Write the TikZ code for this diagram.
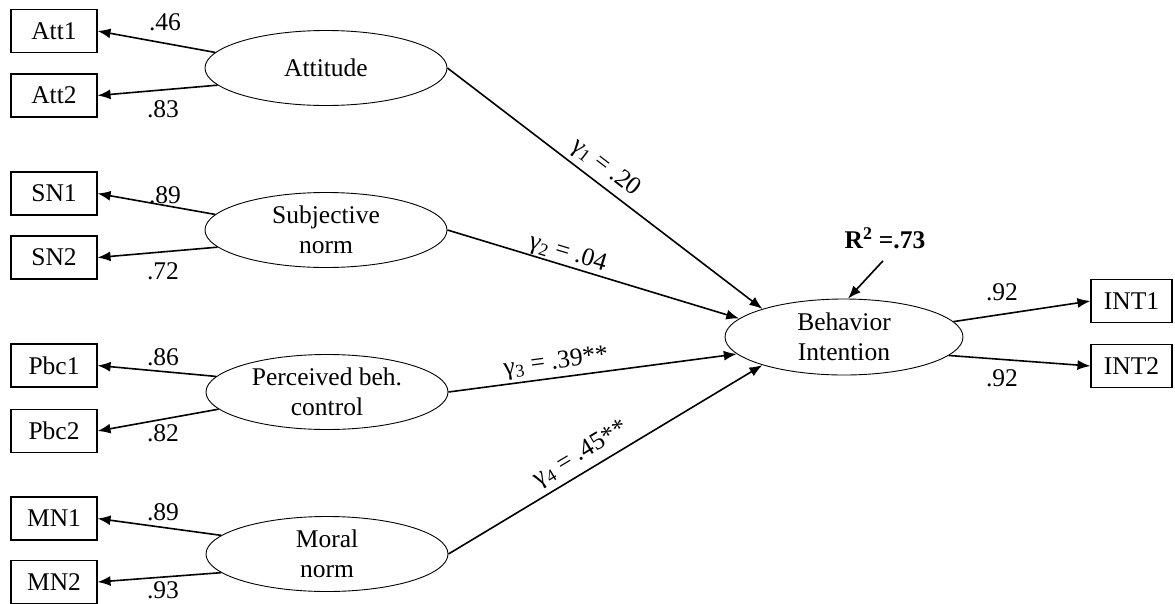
\documentclass[tikz,border=0pt]{standalone}
\usepackage{fontspec}
\setmainfont{Liberation Serif}
\usetikzlibrary{arrows.meta,shapes.geometric}
\tikzset{
  ind/.style={draw, line width=1.1pt, minimum width=86pt, minimum height=43pt, inner sep=0pt},
  lat/.style={draw, ellipse, line width=0.9pt, minimum width=242pt, minimum height=75pt, inner sep=0pt, align=center},
  arr/.style={-{Latex[length=13pt,width=10pt]}, line width=1.6pt},
  lbl/.style={inner sep=0pt},
  glbl/.style={sloped, inner sep=0pt}
}
\begin{document}
\begin{tikzpicture}[x=1pt,y=-1pt,font=\fontsize{25.5}{30}\selectfont]
\useasboundingbox (0,0) rectangle (1175,603);
% indicators
\node[ind] (att1) at (54,31) {Att1};
\node[ind] (att2) at (54,95.5) {Att2};
\node[ind] (sn1) at (54,193.5) {SN1};
\node[ind] (sn2) at (54,257.5) {SN2};
\node[ind] (pbc1) at (54,365.5) {Pbc1};
\node[ind] (pbc2) at (54,431) {Pbc2};
\node[ind] (mn1) at (54,518.5) {MN1};
\node[ind] (mn2) at (54,582) {MN2};
\node[ind, minimum width=81pt] (int1) at (1131.5,301) {INT1};
\node[ind, minimum width=81pt] (int2) at (1131.5,366) {INT2};
% latent
\node[lat] (att) at (326,68) {Attitude};
\node[lat] (sn) at (326,230) {Subjective\\norm};
\node[lat] (pbc) at (327,392) {Perceived beh.\\control};
\node[lat] (mn) at (327,554) {Moral\\norm};
\node[lat, minimum width=238pt, minimum height=76pt] (bi) at (844,337) {Behavior\\Intention};
\node[lbl] (r2) at (885,238) {\textbf{R\textsuperscript{2} =.73}};
% loadings
\draw[arr] (att.172) -- (att1.east);
\draw[arr] (att.189) -- (att2.east);
\draw[arr] (sn.172) -- (sn1.east);
\draw[arr] (sn.189) -- (sn2.east);
\draw[arr] (pbc.172) -- (pbc1.east);
\draw[arr] (pbc.189) -- (pbc2.east);
\draw[arr] (mn.170) -- (mn1.east);
\draw[arr] (mn.190) -- (mn2.east);
\draw[arr] (bi.8) -- (int1.west);
\draw[arr] (bi.-10) -- (int2.west);
% structural paths
\draw[arr] (att.east) -- node[glbl, pos=0.47, above=5pt] {γ\textsubscript{1} = .20} (bi.161);
\draw[arr] (sn.east) -- node[glbl, pos=0.40, above=0pt] {γ\textsubscript{2} = .04} (bi.170);
\draw[arr] (pbc.east) -- node[glbl, pos=0.38, above=3pt] {γ\textsubscript{3} = .39**} (bi.189);
\draw[arr] (mn.east) -- node[glbl, pos=0.45, above=5pt] {γ\textsubscript{4} = .45**} (bi.199);
\coordinate (r2s) at ([xshift=-2pt,yshift=-12pt]r2.south);
\draw[arr] (r2s) -- (bi.84);
% loading labels
\node[lbl] (l1) at (165,22) {.46};
\node[lbl] (l2) at (163,109) {.83};
\node[lbl] (l3) at (165,195) {.89};
\node[lbl] (l4) at (163,271) {.72};
\node[lbl] (l5) at (163,357) {.86};
\node[lbl] (l6) at (163,433) {.82};
\node[lbl] (l7) at (163,512) {.89};
\node[lbl] (l8) at (163,590) {.93};
\node[lbl] (l9) at (1002,292) {.92};
\node[lbl] (l10) at (1002,378) {.92};
\end{tikzpicture}
\end{document}
